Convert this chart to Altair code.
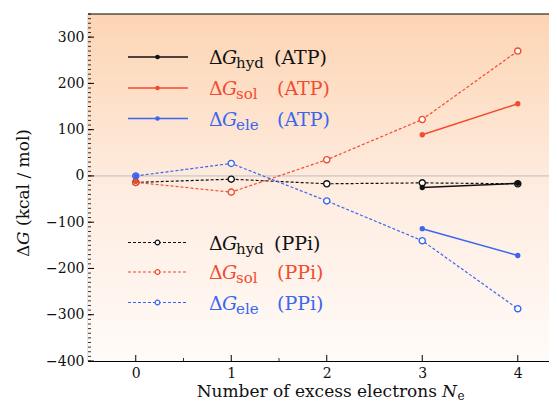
import altair as alt
import pandas as pd

# ---------------- data ----------------
N = [0, 1, 2, 3, 4]
ppi_hyd = [-14, -7, -17, -15, -17]
ppi_sol = [-14, -35, 35, 122, 270]
ppi_ele = [0, 27, -54, -140, -287]

atp_N = [0, 3, 4]
atp_hyd = [-11, -25, -16]
atp_sol = [-11, 89, 156]
atp_ele = [0, -114, -172]

series = ["hyd", "sol", "ele"]
colors = ["#111111", "#f24b2f", "#3a66f0"]
molecules = ["ATP", "PPi"]

y_major = [-400, -300, -200, -100, 0, 100, 200, 300]
y_minor = list(range(-400, 351, 10))
x_major = [0, 1, 2, 3, 4]
x_minor = [0.5, 1.5]

x_title = "Number of excess electrons"
x_title_var = "N"
x_title_sub = "e"
y_title_parts = ["Δ", "G", "(kcal / mol)"]

# ---------------- layout ----------------
W, H = 461, 347
FONT = "DejaVu Serif"

ppi_df = pd.DataFrame(
    [{"N": n, "v": v, "s": s} for s, vals in zip(series, [ppi_hyd, ppi_sol, ppi_ele]) for n, v in zip(N, vals)]
)
atp_df = pd.DataFrame(
    [{"N": n, "v": v, "s": s, "seg": int(n >= 3)} for s, vals in zip(series, [atp_hyd, atp_sol, atp_ele]) for n, v in zip(atp_N, vals)]
)

xs = alt.Scale(domain=[-0.5, 4.327], nice=False, zero=False)
ys = alt.Scale(domain=[-400, 350], nice=False, zero=False)
cs = alt.Scale(domain=series, range=colors)

one = pd.DataFrame({"a": [0]})

bg = alt.Chart(one).mark_rect(
    color=alt.Gradient(
        gradient="linear", x1=0, x2=0, y1=0, y2=1,
        stops=[alt.GradientStop(offset=0, color="#fdd5b3"),
               alt.GradientStop(offset=0.5, color="#feece0"),
               alt.GradientStop(offset=1, color="#fffbf8")]),
).encode(x=alt.value(0), x2=alt.value(W + 2), y=alt.value(0), y2=alt.value(H))

zero = alt.Chart(one).mark_rule(color="#bdbdbd", strokeWidth=1).encode(y=alt.datum(0, scale=ys))

top = alt.Chart(one).mark_rule(color="black", strokeWidth=1.2).encode(
    x=alt.value(0), x2=alt.value(W + 2), y=alt.value(0))

ytick_major = alt.Chart(pd.DataFrame({"t": y_major})).mark_rule(color="black", strokeWidth=1).encode(
    y=alt.Y("t:Q", scale=ys), x=alt.value(0), x2=alt.value(6))
ytick_minor = alt.Chart(pd.DataFrame({"t": y_minor})).mark_rule(color="black", strokeWidth=0.8).encode(
    y=alt.Y("t:Q", scale=ys), x=alt.value(0), x2=alt.value(3))
xtick_major = alt.Chart(pd.DataFrame({"t": x_major})).mark_rule(color="black", strokeWidth=1).encode(
    x=alt.X("t:Q", scale=xs), y=alt.value(H), y2=alt.value(H - 6))
xtick_minor = alt.Chart(pd.DataFrame({"t": x_minor})).mark_rule(color="black", strokeWidth=0.8).encode(
    x=alt.X("t:Q", scale=xs), y=alt.value(H), y2=alt.value(H - 3))

X = alt.X("N:Q", scale=xs, axis=alt.Axis(
    values=x_major, format="d", ticks=False, tickSize=0, grid=False, labelPadding=5, title=None))
Y = alt.Y("v:Q", scale=ys, axis=alt.Axis(
    values=y_major, format="d", ticks=False, tickSize=0, grid=False, labelPadding=4, title=None))
C = alt.Color("s:N", scale=cs, legend=None)

ppi_line = alt.Chart(ppi_df).mark_line(strokeDash=[3, 2], strokeWidth=1.2).encode(x=X, y=Y, color=C, detail="s:N")
ppi_pt = alt.Chart(ppi_df).mark_point(filled=False, fill="white", size=38, strokeWidth=1.4, opacity=1).encode(
    x=X, y=Y, color=C)
atp_line = alt.Chart(atp_df).mark_line(strokeWidth=1.5).encode(
    x=X, y=Y, color=C, detail=alt.Detail(["s:N", "seg:N"]))
atp_pt = alt.Chart(atp_df).mark_circle(size=28, opacity=1).encode(x=X, y=Y, color=C)

# ---------------- axis titles as text (italic variable, subscript) ----------------
title_df = pd.DataFrame({"t": [x_title], "v": [x_title_var], "sub": [x_title_sub],
                         "d": [y_title_parts[0]], "g": [y_title_parts[1]], "u": [y_title_parts[2]]})
tb = alt.Chart(title_df)
xt_main = tb.mark_text(align="right", baseline="alphabetic", font=FONT, fontSize=17, color="#111111").encode(
    x=alt.value(349), y=alt.value(383), text="t:N")
xt_var = tb.mark_text(align="left", baseline="alphabetic", font=FONT, fontSize=17, fontStyle="italic",
                      color="#111111").encode(x=alt.value(354), y=alt.value(383), text="v:N")
xt_sub = tb.mark_text(align="left", baseline="alphabetic", font=FONT, fontSize=12, color="#111111").encode(
    x=alt.value(369.5), y=alt.value(385.5), text="sub:N")
yt_d = tb.mark_text(align="left", baseline="alphabetic", angle=270, font=FONT, fontSize=17,
                    color="#111111").encode(x=alt.value(-59.5), y=alt.value(243), text="d:N")
yt_g = tb.mark_text(align="left", baseline="alphabetic", angle=270, font=FONT, fontSize=17, fontStyle="italic",
                    color="#111111").encode(x=alt.value(-59.5), y=alt.value(231), text="g:N")
yt_u = tb.mark_text(align="left", baseline="alphabetic", angle=270, font=FONT, fontSize=17,
                    color="#111111").encode(x=alt.value(-59.5), y=alt.value(212), text="u:N")

# ---------------- custom legend ----------------
row_y = [43, 74, 104.5, 228.5, 258, 288.5]
leg_rows = []
i = 0
for mol in molecules:
    for s, c in zip(series, colors):
        leg_rows.append({"mol": mol, "s": s, "c": c, "ry": row_y[i],
                         "paren": f"({mol})", "px_paren": 186 if s == "hyd" else 189})
        i += 1
leg = pd.DataFrame(leg_rows)
leg["ty"] = leg["ry"] + 7
leg["sy"] = leg["ry"] + 11
leg["delta"] = "Δ"
leg["G"] = "G"


def leg_layer(mol):
    d = leg[leg["mol"] == mol]
    base = alt.Chart(d)
    if mol == "ATP":
        line = base.mark_rule(strokeWidth=1.3).encode(
            x=alt.value(40), x2=alt.value(100), y=alt.Y("ry:Q", scale=None, axis=None),
            color=alt.Color("c:N", scale=None))
        pt = base.mark_circle(size=22, opacity=1).encode(
            x=alt.value(69.5), y=alt.Y("ry:Q", scale=None, axis=None), color=alt.Color("c:N", scale=None))
    else:
        line = base.mark_rule(strokeWidth=1.1, strokeDash=[3, 2]).encode(
            x=alt.value(40), x2=alt.value(100), y=alt.Y("ry:Q", scale=None, axis=None),
            color=alt.Color("c:N", scale=None))
        pt = base.mark_point(filled=False, fill="white", size=22, strokeWidth=1.2, opacity=1).encode(
            x=alt.value(69.5), y=alt.Y("ry:Q", scale=None, axis=None), color=alt.Color("c:N", scale=None))
    return [line, pt]


def txt(field_text, xpos, yfield, size, style="normal"):
    return alt.Chart(leg).mark_text(align="left", baseline="alphabetic", font=FONT,
                                    fontSize=size, fontStyle=style).encode(
        x=xpos, y=alt.Y(f"{yfield}:Q", scale=None, axis=None),
        text=field_text, color=alt.Color("c:N", scale=None))


t_delta = txt("delta:N", alt.value(121), "ty", 19)
t_G = txt("G:N", alt.value(134), "ty", 19, "italic")
t_sub = txt("s:N", alt.value(148), "sy", 15)
t_par = txt("paren:N", alt.X("px_paren:Q", scale=None, axis=None), "ty", 19)

layers = [bg, zero, ytick_minor, ytick_major, xtick_minor, xtick_major, top,
          ppi_line, ppi_pt, atp_line, atp_pt] + leg_layer("ATP") + leg_layer("PPi") + \
         [t_delta, t_G, t_sub, t_par, xt_main, xt_var, xt_sub, yt_d, yt_g, yt_u]

chart = alt.layer(*layers).properties(
    width=W, height=H,
    autosize=alt.AutoSizeParams(type="none"),
    padding={"left": 80, "top": 6, "right": 0, "bottom": 40},
).configure_view(stroke=None).configure_axis(
    domainColor="black", domainWidth=1.2,
    labelFont=FONT, labelFontSize=14, labelColor="#111111",
)

chart.save("out.html", embed_options={"renderer": "svg", "actions": False})
